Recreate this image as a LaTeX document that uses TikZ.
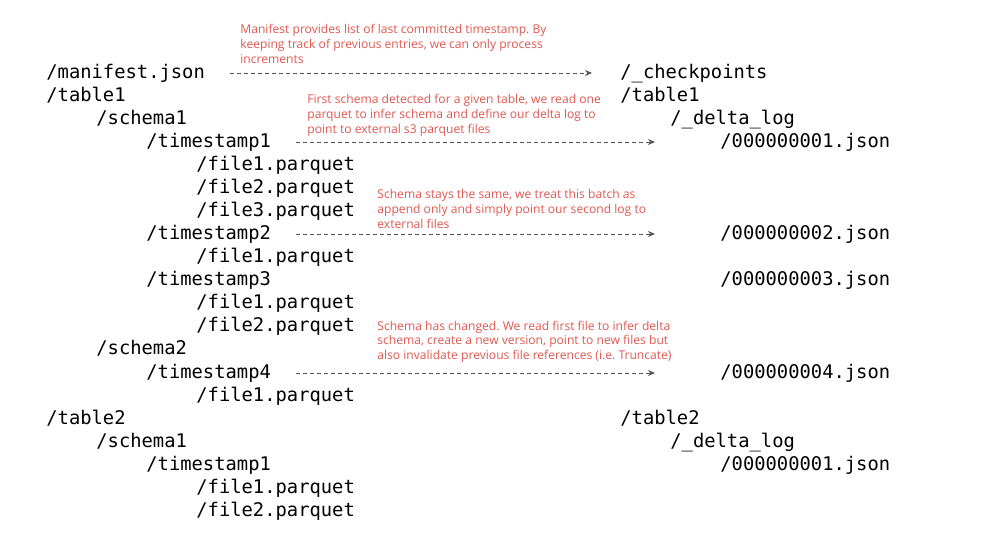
\documentclass[tikz,border=0pt]{standalone}
\usepackage{fontspec}
\setmonofont{DejaVu Sans Mono}
\newfontfamily\notefont{Open Sans}
\usetikzlibrary{arrows.meta}
\definecolor{notered}{RGB}{222,88,80}
\definecolor{flowgray}{RGB}{85,85,85}
\frenchspacing

\begin{document}
\begin{tikzpicture}[x=0.5pt, y=-0.5pt,
    path/.style={anchor=base west, inner sep=0pt, font=\ttfamily\fontsize{9.4}{11}\selectfont,
        text height=0.7em, text depth=0.2em},
    note/.style={anchor=base west, inner sep=0pt, align=left, text=notered,
        font=\notefont\fontsize{6.05}{7.35}\selectfont},
    flow/.style={draw=flowgray, line width=0.5pt, dash pattern=on 2pt off 1.5pt,
        -{Stealth[length=3.5pt, width=3pt]}}]
    \useasboundingbox (0, 0) rectangle (986, 548);

    % source layout
    \node[path] (manifest) at (46, 78) {/manifest.json};
    \node[path] (tableA) at (46, 101) {/table1};
    \node[path] (schemaA) at (96, 124) {/schema1};
    \node[path] (tsA) at (146, 147) {/timestamp1};
    \node[path] (fileAA) at (196, 170) {/file1.parquet};
    \node[path] (fileAB) at (196, 193) {/file2.parquet};
    \node[path] (fileAC) at (196, 216) {/file3.parquet};
    \node[path] (tsB) at (146, 239) {/timestamp2};
    \node[path] (fileBA) at (196, 262) {/file1.parquet};
    \node[path] (tsC) at (146, 285) {/timestamp3};
    \node[path] (fileCA) at (196, 308) {/file1.parquet};
    \node[path] (fileCB) at (196, 331) {/file2.parquet};
    \node[path] (schemaB) at (96, 354) {/schema2};
    \node[path] (tsD) at (146, 378) {/timestamp4};
    \node[path] (fileDA) at (196, 401) {/file1.parquet};
    \node[path] (tableB) at (46, 424) {/table2};
    \node[path] (schemaC) at (96, 447) {/schema1};
    \node[path] (tsE) at (146, 470) {/timestamp1};
    \node[path] (fileEA) at (196, 493) {/file1.parquet};
    \node[path] (fileEB) at (196, 516) {/file2.parquet};

    % delta side
    \node[path] (checkpoints) at (620, 78) {/\_checkpoints};
    \node[path] (dtableA) at (620, 101) {/table1};
    \node[path] (logA) at (670, 124) {/\_delta\_log};
    \node[path] (jsonA) at (720, 147) {/000000001.json};
    \node[path] (jsonB) at (720, 239) {/000000002.json};
    \node[path] (jsonC) at (720, 285) {/000000003.json};
    \node[path] (jsonD) at (720, 378) {/000000004.json};
    \node[path] (dtableB) at (620, 424) {/table2};
    \node[path] (logB) at (670, 447) {/\_delta\_log};
    \node[path] (jsonE) at (720, 470) {/000000001.json};

    % notes (base = last line)
    \node[note] (noteA) at (240, 63) {Manifest provides list of last committed timestamp. By\\keeping track of previous entries, we can only process\\increments};
    \node[note] (noteB) at (307, 133) {First schema detected for a given table, we read one\\parquet to infer schema and define our delta log to\\point to external s3 parquet files};
    \node[note] (noteC) at (377, 228) {Schema stays the same, we treat this batch as\\append only and simply point our second log to\\external files};
    \node[note] (noteD) at (377, 359.5) {Schema has changed. We read first file to infer delta\\schema, create a new version, point to new files but\\also invalidate previous file references (i.e. Truncate)};

    % arrows
    \draw[flow, shorten <=12.5pt, shorten >=14pt] (manifest.east) -- (checkpoints.west);
    \draw[flow, shorten <=12.5pt, shorten >=32.5pt] (tsA.east) -- (jsonA.west);
    \draw[flow, shorten <=12.5pt, shorten >=32.5pt] (tsB.east) -- (jsonB.west);
    \draw[flow, shorten <=12.5pt, shorten >=32.5pt] (tsD.east) -- (jsonD.west);
\end{tikzpicture}
\end{document}
